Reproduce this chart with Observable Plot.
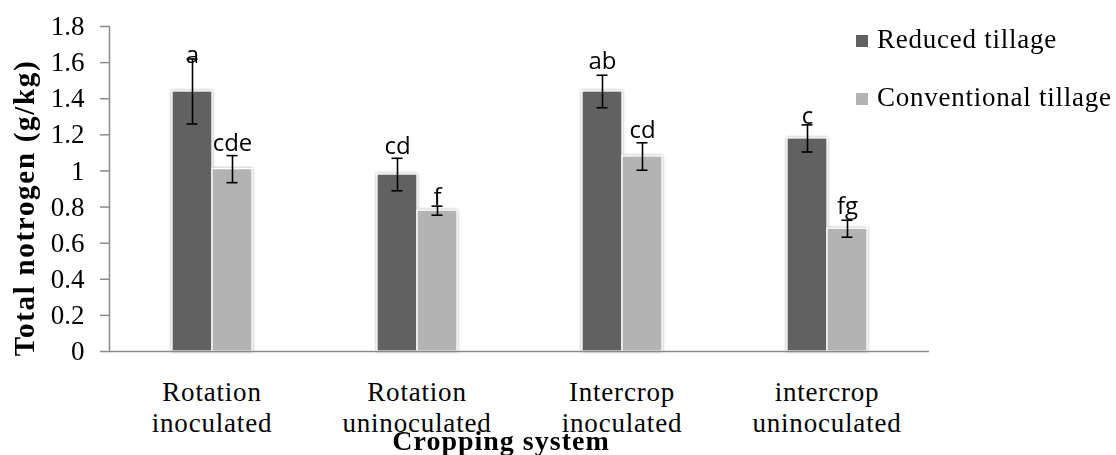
<!DOCTYPE html>
<html><head><meta charset="utf-8">
<script src="https://cdn.jsdelivr.net/npm/d3@7"></script>
<script src="https://cdn.jsdelivr.net/npm/@observablehq/plot@0.6"></script>
<style>
html,body{margin:0;padding:0;background:#fff;}
#chart{position:relative;width:1116px;height:455px;}
</style></head><body><div id="chart"></div>
<script>
const categories = ["Rotation\ninoculated","Rotation\nuninoculated","Intercrop\ninoculated","intercrop\nuninoculated"];
const series = ["Reduced tillage","Conventional tillage"];
const reduced = [1.44, 0.98, 1.44, 1.18];
const reducedErr = [0.18, 0.09, 0.09, 0.075];
const conventional = [1.01, 0.78, 1.08, 0.68];
const conventionalErr = [0.075, 0.025, 0.076, 0.047];
const reducedLetters = ["a","cd","ab","c"];
const conventionalLetters = ["cde","f","cd","fg"];
const reducedLabelY = [1.60, 1.096, 1.565, 1.26];
const conventionalLabelY = [1.113, 0.81, 1.183, 0.762];
const yTicks = [0,0.2,0.4,0.6,0.8,1,1.2,1.4,1.6,1.8];
const yTickLabels = ["0","0.2","0.4","0.6","0.8","1","1.2","1.4","1.6","1.8"];
const yTitle = "Total notrogen (g/kg)";
const xTitle = "Cropping system";
const colors = ["#616161","#b3b3b3"];

const rows = [];
categories.forEach((c,i)=>{
  rows.push({cat:c, series:series[0], value:reduced[i], err:reducedErr[i], letter:reducedLetters[i], labelY:reducedLabelY[i]});
  rows.push({cat:c, series:series[1], value:conventional[i], err:conventionalErr[i], letter:conventionalLetters[i], labelY:conventionalLabelY[i]});
});

const serif = "'Liberation Serif','Times New Roman',serif";
const plot = Plot.plot({
  width:1116, height:455,
  marginLeft:107, marginRight:186, marginTop:26, marginBottom:104,
  style:{fontFamily:serif, background:"white", overflow:"visible"},
  fx:{domain:categories, padding:0, axis:null, label:null},
  x:{domain:series, paddingInner:0, paddingOuter:1.51, axis:null},
  y:{domain:[0,1.8], axis:null},
  color:{domain:series, range:colors},
  marks:[
    Plot.barY(rows,{fx:"cat", x:"series", y:"value", fill:"series", stroke:"white", strokeWidth:1.3}),
    Plot.ruleY([0],{stroke:"#8a8a8a", strokeWidth:1.5}),
    Plot.frame({anchor:"left", stroke:"#8a8a8a", strokeWidth:1.5, facetAnchor:"left"}),
    Plot.ruleX(rows,{fx:"cat", x:"series", y1:d=>d.value-d.err, y2:d=>d.value+d.err, stroke:"black", strokeWidth:1.6}),
    Plot.tickY(rows,{fx:"cat", x:"series", y:d=>d.value-d.err, insetLeft:14.5, insetRight:14.5, stroke:"black", strokeWidth:1.6}),
    Plot.tickY(rows,{fx:"cat", x:"series", y:d=>d.value+d.err, insetLeft:14.5, insetRight:14.5, stroke:"black", strokeWidth:1.6}),
    Plot.text(rows,{fx:"cat", x:"series", y:"labelY", text:"letter", lineAnchor:"bottom", fontSize:24, fontFamily:"'Open Sans',sans-serif", fill:"black"}),
    Plot.axisY({ticks:yTicks, tickSize:9, stroke:"#8a8a8a", fill:"none", strokeWidth:1.5, label:null}),
    Plot.axisY({ticks:yTicks, tickSize:9, tickPadding:16, tickFormat:d=>yTickLabels[yTicks.indexOf(d)], stroke:"none", fill:"black", fontSize:27, label:null}),
    Plot.text(categories,{fx:d=>d, text:d=>d, frameAnchor:"bottom", lineAnchor:"top", dy:27, lineHeight:1.15, fontSize:27, fill:"black", className:"catlabel"})
  ]
});
document.getElementById("chart").appendChild(plot);
const svg = d3.select(plot);
svg.selectAll('g[aria-label="bar"]').style("filter","drop-shadow(0px 0px 1.5px rgba(0,0,0,0.35))");
svg.selectAll('.catlabel text').style("letter-spacing","0.8px");

// axis titles
svg.append("text").attr("transform","translate(34,208) rotate(-90)")
  .attr("text-anchor","middle").attr("font-family",serif).attr("font-weight","bold")
  .attr("font-size",29).attr("letter-spacing","1.7px").attr("fill","black").text(yTitle);
svg.append("text").attr("x",501).attr("y",450)
  .attr("text-anchor","middle").attr("font-family",serif).attr("font-weight","bold")
  .attr("font-size",28).attr("letter-spacing","1px").attr("fill","black").text(xTitle);

// legend
const leg = svg.append("g");
series.forEach((s,i)=>{
  leg.append("rect").attr("x",856).attr("y",35+58*i).attr("width",12).attr("height",12).attr("fill",colors[i]);
  leg.append("text").attr("x",877).attr("y",48+58*i).attr("text-anchor","start").attr("font-family",serif).attr("font-size",27)
    .attr("letter-spacing","0.75px").attr("fill","black").text(s);
});
</script></body></html>
